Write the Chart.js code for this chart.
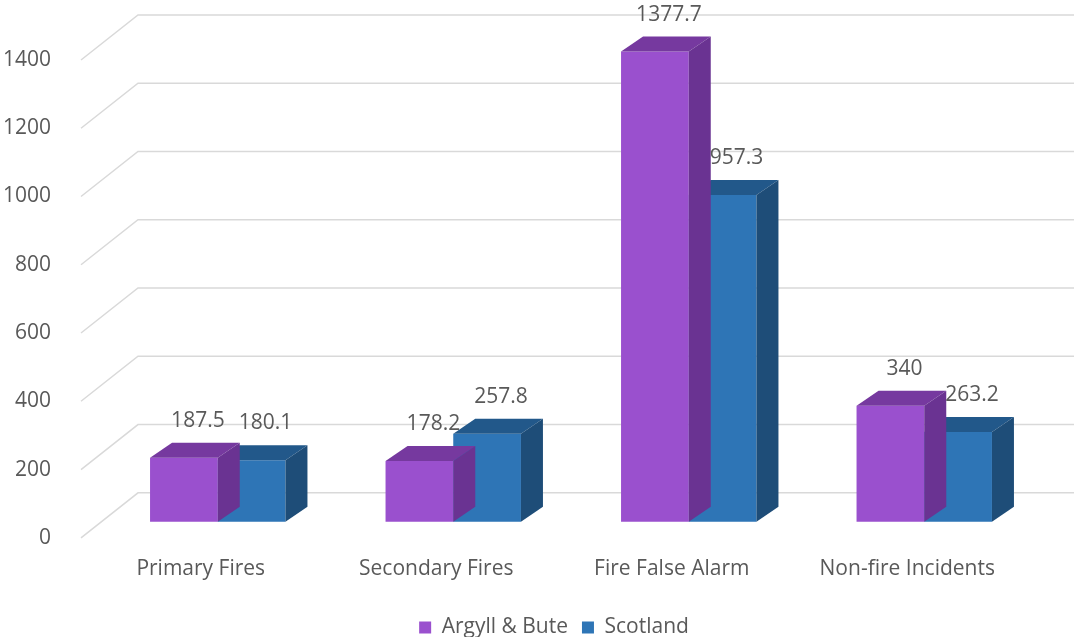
<!DOCTYPE html>
<html>
<head>
<meta charset="utf-8">
<script src="https://cdn.jsdelivr.net/npm/chart.js@4.4.0/dist/chart.umd.min.js"></script>
<style>
  html, body { margin: 0; padding: 0; background: #ffffff; }
  #wrap { width: 1074px; height: 637px; }
</style>
</head>
<body>
<div id="wrap"><canvas id="chart"></canvas></div>
<script>
// Incident rates by type
const categories = ['Primary Fires', 'Secondary Fires', 'Fire False Alarm', 'Non-fire Incidents'];
const seriesNames = ['Argyll & Bute', 'Scotland'];
const argyllBute = [187.5, 178.2, 1377.7, 340];
const scotland = [180.1, 257.8, 957.3, 263.2];
const yTicks = [0, 200, 400, 600, 800, 1000, 1200, 1400];

// Oblique projection used for the 3D look
const BAR_SHIFT = { x: 17, y: -16 };  // bar front plane, relative to the floor's front edge
const BAR_DEPTH = { x: 22, y: -15 };  // thickness of each bar
const WALL = { x: 57, y: -45 };       // back wall, relative to the floor's front edge

const FONT = "'Open Sans', sans-serif";
const FONT_SIZE = 21;
const TEXT_COLOR = '#595959';
const GRID_COLOR = '#D9D9D9';
const palette = [
  { front: '#9A50CE', top: '#76399F', side: '#6A3392' },
  { front: '#2E75B6', top: '#22588A', side: '#1E4D78' }
];

const bars3d = {
  id: 'bars3d',
  beforeDatasetsDraw(chart) {
    const { ctx, chartArea, scales } = chart;
    ctx.save();
    ctx.strokeStyle = GRID_COLOR;
    ctx.lineWidth = 1.5;
    yTicks.forEach(v => {
      const yf = scales.y.getPixelForValue(v);
      const x0 = chartArea.left - 2;
      ctx.beginPath();
      ctx.moveTo(x0, yf);
      ctx.lineTo(x0 + WALL.x, yf + WALL.y);
      ctx.lineTo(chart.width, yf + WALL.y);
      ctx.stroke();
    });
    ctx.restore();
  },
  beforeDatasetDraw(chart) {
    chart.ctx.save();
    chart.ctx.translate(BAR_SHIFT.x, BAR_SHIFT.y);
  },
  afterDatasetDraw(chart, args) {
    const ctx = chart.ctx;
    const c = palette[args.index];
    const dx = BAR_DEPTH.x, dy = BAR_DEPTH.y;
    args.meta.data.forEach(bar => {
      const { x, y, base, width } = bar.getProps(['x', 'y', 'base', 'width'], true);
      const l = x - width / 2, r = x + width / 2;
      ctx.fillStyle = c.top;
      ctx.beginPath();
      ctx.moveTo(l, y);
      ctx.lineTo(l + dx, y + dy);
      ctx.lineTo(r + dx, y + dy);
      ctx.lineTo(r, y);
      ctx.closePath();
      ctx.fill();
      ctx.fillStyle = c.side;
      ctx.beginPath();
      ctx.moveTo(r, y);
      ctx.lineTo(r + dx, y + dy);
      ctx.lineTo(r + dx, base + dy);
      ctx.lineTo(r, base);
      ctx.closePath();
      ctx.fill();
    });
    ctx.restore();
  },
  afterDatasetsDraw(chart) {
    const ctx = chart.ctx;
    ctx.save();
    ctx.font = FONT_SIZE + 'px ' + FONT;
    ctx.fillStyle = TEXT_COLOR;
    ctx.textAlign = 'center';
    ctx.textBaseline = 'middle';
    chart.data.datasets.forEach((ds, i) => {
      chart.getDatasetMeta(i).data.forEach((bar, j) => {
        const { x, y } = bar.getProps(['x', 'y'], true);
        const lx = x + BAR_SHIFT.x + 14;
        const ly = y + BAR_SHIFT.y + BAR_DEPTH.y - 22;
        ctx.fillText(String(ds.data[j]), lx, ly);
      });
    });
    ctx.restore();
  }
};

new Chart(document.getElementById('chart'), {
  type: 'bar',
  data: {
    labels: categories,
    datasets: [
      { label: seriesNames[0], data: argyllBute, backgroundColor: palette[0].front, borderWidth: 0, clip: false },
      { label: seriesNames[1], data: scotland, backgroundColor: palette[1].front, borderWidth: 0, clip: false }
    ]
  },
  options: {
    responsive: true,
    maintainAspectRatio: false,
    animation: false,
    layout: { padding: { top: 60, left: 0, right: 49, bottom: -11 } },
    datasets: { bar: { barPercentage: 1, categoryPercentage: 0.575 } },
    scales: {
      x: {
        afterFit: s => { s.height += 10; },
        grid: { display: false },
        border: { display: false },
        ticks: { color: TEXT_COLOR, font: { family: FONT, size: FONT_SIZE }, padding: 11, maxRotation: 0 }
      },
      y: {
        min: 0,
        max: 1400,
        afterFit: s => { s.width = 83; },
        grid: { display: false },
        border: { display: false },
        ticks: {
          stepSize: 200,
          color: TEXT_COLOR,
          font: { family: FONT, size: FONT_SIZE },
          padding: 24,
          callback: v => String(v)
        }
      }
    },
    plugins: {
      legend: {
        position: 'bottom',
        fullSize: false,
        labels: { color: TEXT_COLOR, font: { family: FONT, size: FONT_SIZE }, boxWidth: 12, boxHeight: 12, padding: 14 }
      },
      tooltip: { enabled: false }
    }
  },
  plugins: [bars3d]
});
</script>
</body>
</html>
